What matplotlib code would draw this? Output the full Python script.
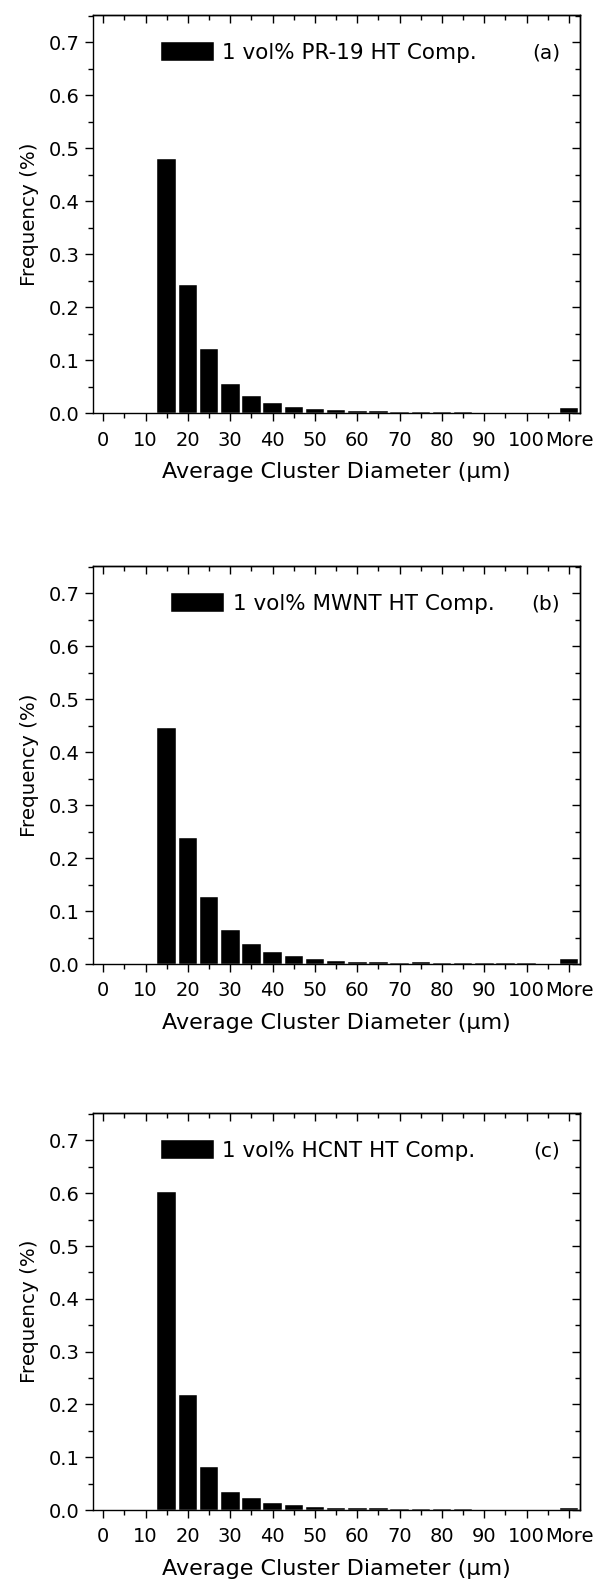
import matplotlib
matplotlib.use("Agg")
import matplotlib.pyplot as plt
import numpy as np

plt.rcParams['font.family'] = ['DejaVu Sans']

# Bin labels (upper bin edges, µm) and the overflow bin
bin_labels = ['0', '5', '10', '15', '20', '25', '30', '35', '40', '45', '50',
              '55', '60', '65', '70', '75', '80', '85', '90', '95', '100', '105', 'More']
tick_labels = ['0', '10', '20', '30', '40', '50', '60', '70', '80', '90', '100', 'More']

freq_pr19 = [0, 0, 0, 0.479, 0.242, 0.121, 0.056, 0.033, 0.019, 0.012, 0.009,
             0.007, 0.004, 0.004, 0.003, 0.003, 0.002, 0.002, 0.001, 0.001, 0.001, 0.0, 0.010]
freq_mwnt = [0, 0, 0, 0.445, 0.238, 0.126, 0.065, 0.038, 0.023, 0.016, 0.010,
             0.006, 0.004, 0.004, 0.002, 0.003, 0.002, 0.002, 0.001, 0.001, 0.001, 0.0, 0.009]
freq_hcnt = [0, 0, 0, 0.603, 0.218, 0.082, 0.034, 0.022, 0.013, 0.010, 0.006,
             0.004, 0.004, 0.003, 0.002, 0.001, 0.001, 0.001, 0.0005, 0.0005, 0.0005, 0.0, 0.003]

legend_labels = ['1 vol% PR-19 HT Comp.', '1 vol% MWNT HT Comp.', '1 vol% HCNT HT Comp.']
panel_tags = ['(a)', '(b)', '(c)']
series = [freq_pr19, freq_mwnt, freq_hcnt]

W, H = 595, 1582
fig = plt.figure(figsize=(W / 100, H / 100), dpi=100)

# axes boxes in pixels: (top, bottom)
boxes = [(14.7, 413.3), (565.7, 964.0), (1113.0, 1510.0)]
left_px, right_px = 93.3, 580.0
leg_x = [0.139, 0.160, 0.139]

x = np.arange(len(bin_labels))
major_idx = list(range(0, len(bin_labels), 2))

for i, (vals, lab, tag) in enumerate(zip(series, legend_labels, panel_tags)):
    top, bot = boxes[i]
    ax = fig.add_axes([left_px / W, 1 - bot / H, (right_px - left_px) / W, (bot - top) / H])
    bars = ax.bar(x, vals, width=0.875, color='black', edgecolor='white', linewidth=0.3)
    ax.set_xlim(-0.47, len(bin_labels) - 0.48)
    ax.set_ylim(0, 0.752)

    ax.set_xticks(major_idx)
    ax.set_xticklabels(tick_labels)
    ax.set_xticks([j for j in x if j % 2 == 1], minor=True)
    ax.set_yticks(np.arange(0, 0.71, 0.1))
    ax.set_yticklabels([f'{v:.1f}' for v in np.arange(0, 0.71, 0.1)])
    ax.set_yticks(np.arange(0.05, 0.751, 0.1), minor=True)

    ax.tick_params(axis='both', which='major', direction='out', length=6, width=1.0,
                   labelsize=14, pad=4)
    ax.tick_params(axis='both', which='minor', direction='out', length=3.5, width=1.0)
    ax.tick_params(axis='x', which='major', pad=6.5)

    sx = ax.secondary_xaxis('top')
    sx.set_xticks(major_idx)
    sx.set_xticks([j for j in x if j % 2 == 1], minor=True)
    sx.tick_params(which='major', direction='in', length=6, width=1.0, labeltop=False)
    sx.tick_params(which='minor', direction='in', length=3.5, width=1.0)
    sx.spines['top'].set_linewidth(1.0)

    sy = ax.secondary_yaxis('right')
    sy.set_yticks(np.arange(0, 0.71, 0.1))
    sy.set_yticks(np.arange(0.05, 0.751, 0.1), minor=True)
    sy.tick_params(which='major', direction='in', length=6, width=1.0, labelright=False)
    sy.tick_params(which='minor', direction='in', length=3.5, width=1.0)
    sy.spines['right'].set_linewidth(1.0)

    for s in ax.spines.values():
        s.set_linewidth(1.0)

    ax.set_xlabel('Average Cluster Diameter (\u03bcm)', fontsize=16, labelpad=9)
    ax.set_ylabel('Frequency (%)', fontsize=14.3, labelpad=7)

    leg = ax.legend([bars], [lab], loc='center left', bbox_to_anchor=(leg_x[i], 0.905),
                    frameon=False, fontsize=15.5, handlelength=2.45, handleheight=0.95,
                    handletextpad=0.4, borderpad=0, borderaxespad=0)
    ax.text(0.959, 0.905, tag, transform=ax.transAxes, ha='right', va='center', fontsize=14.5)

fig.savefig('out.png', dpi=100)
